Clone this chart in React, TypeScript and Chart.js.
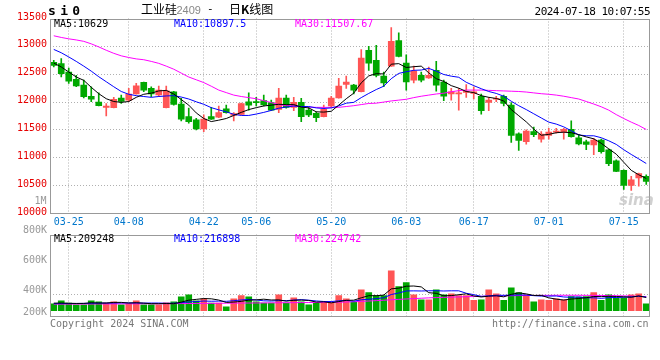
import React, { useEffect, useRef } from 'react';
import { Chart, registerables } from 'chart.js';
Chart.register(...registerables);

const DATES = [
  '03-21','03-22','03-25','03-26','03-27','03-28','03-29','04-01','04-02','04-03',
  '04-08','04-09','04-10','04-11','04-12','04-15','04-16','04-17','04-18','04-19',
  '04-22','04-23','04-24','04-25','04-26','04-29','04-30','05-06','05-07','05-08',
  '05-09','05-10','05-13','05-14','05-15','05-16','05-17','05-20','05-21','05-22',
  '05-23','05-24','05-27','05-28','05-29','05-30','05-31','06-03','06-04','06-05',
  '06-06','06-07','06-11','06-12','06-13','06-14','06-17','06-18','06-19','06-20',
  '06-21','06-24','06-25','06-26','06-27','06-28','07-01','07-02','07-03','07-04',
  '07-05','07-08','07-09','07-10','07-11','07-12','07-15','07-16','07-17','07-18',
];
const TICK_DATES = ['03-25','04-08','04-22','05-06','05-20','06-03','06-17','07-01','07-15'];

const OPEN = [
  12715,12690,12540,12410,12305,12105,12000,11905,11900,12070,
  12035,12145,12355,12245,12130,11900,12185,11965,11740,11680,
  11520,11740,11730,11880,11760,11780,12005,12005,12025,11990,
  11870,12070,11905,11995,11855,11800,11740,11930,12075,12315,
  12305,12185,12930,12750,12465,12645,13105,12700,12395,12480,
  12435,12570,12360,12145,12145,12175,12155,12105,11995,12050,
  12105,11945,11430,11290,11470,11335,11400,11460,11460,11510,
  11360,11285,11230,11320,11145,10945,10775,10505,10640,10665,
];
const HIGH = [
  12750,12780,12610,12480,12395,12275,12165,11975,12085,12125,
  12245,12335,12360,12275,12285,12285,12195,12065,11890,11710,
  11770,11905,11930,11945,11810,11980,12165,12085,12125,12035,
  12245,12125,12085,12065,11905,11825,11945,12105,12425,12465,
  12320,12940,13000,13020,12540,13335,13245,12850,12645,12540,
  12630,12730,12395,12245,12245,12315,12275,12145,12085,12105,
  12125,11990,11450,11500,11550,11470,11530,11530,11530,11665,
  11410,11320,11350,11335,11155,10965,10785,10665,10725,10695,
];
const LOW = [
  12630,12450,12335,12275,12075,12005,11930,11750,11895,11975,
  12005,12140,12185,12095,12095,11895,11945,11660,11620,11500,
  11470,11690,11720,11800,11660,11775,11855,11930,11930,11845,
  11810,11890,11845,11650,11740,11650,11735,11905,12070,12245,
  12145,12180,12570,12450,12275,12640,12810,12215,12345,12360,
  12425,12195,12025,12035,11855,12085,12055,11785,11845,12005,
  11930,11275,11130,11245,11380,11280,11335,11440,11335,11370,
  11230,11145,11055,11085,10860,10750,10430,10415,10490,10520,
];
const CLOSE = [
  12660,12510,12375,12290,12095,12050,11935,11930,12050,12010,
  12145,12290,12215,12145,12215,12200,11960,11695,11650,11520,
  11695,11695,11810,11810,11795,11975,11945,11990,11950,11855,
  12070,11905,11995,11740,11770,11720,11870,12070,12285,12360,
  12215,12790,12700,12480,12345,13090,12820,12360,12555,12395,
  12480,12305,12105,12185,12165,12195,12185,11845,12035,12065,
  11975,11400,11310,11480,11415,11425,11460,11480,11510,11380,
  11250,11240,11320,11110,10895,10755,10505,10605,10715,10575,
];

const MA5 = [
  12700,12630,12540,12450,12390,12265,12150,12060,12010,11995,
  12010,12085,12140,12160,12200,12210,12145,12045,11945,11805,
  11705,11650,11675,11705,11760,11815,11865,11900,11930,11945,
  11960,11955,11955,11910,11895,11825,11820,11835,11945,12060,
  12160,12345,12470,12510,12505,12680,12690,12620,12635,12645,
  12525,12420,12370,12295,12250,12190,12170,12115,12085,12065,
  12020,11865,11755,11645,11515,11405,11420,11450,11460,11450,
  11415,11375,11340,11260,11160,11065,10920,10775,10695,10629,
];
const MA10 = [
  12945,12885,12810,12730,12645,12555,12455,12365,12275,12190,
  12140,12115,12100,12085,12100,12110,12115,12090,12055,12005,
  11960,11900,11860,11825,11780,11760,11760,11785,11815,11850,
  11890,11910,11930,11920,11920,11895,11885,11895,11930,11980,
  11995,12080,12155,12225,12285,12420,12515,12545,12570,12575,
  12605,12555,12495,12465,12445,12355,12295,12240,12190,12155,
  12105,12015,11935,11865,11790,11715,11640,11605,11555,11485,
  11410,11395,11395,11360,11305,11240,11145,11060,10980,10897.5,
];
const MA30 = [
  13190,13160,13135,13115,13090,13045,12990,12930,12875,12830,
  12800,12775,12760,12730,12695,12645,12590,12520,12450,12400,
  12350,12285,12215,12170,12125,12100,12080,12060,12025,11990,
  11955,11935,11930,11920,11910,11905,11905,11905,11905,11920,
  11935,11955,11975,11980,12000,12020,12035,12050,12080,12105,
  12125,12145,12160,12185,12205,12215,12215,12215,12210,12205,
  12200,12195,12190,12180,12165,12150,12140,12125,12105,12080,
  12055,12010,11965,11915,11855,11775,11705,11640,11580,11507.67,
];

const VOLUME = [
  111000,158000,122000,95000,95000,158000,142000,122000,142000,95000,
  111000,158000,95000,95000,95000,126000,142000,221000,253000,158000,
  190000,122000,122000,63000,190000,242000,221000,142000,122000,122000,
  253000,122000,205000,142000,95000,122000,142000,122000,242000,190000,
  137000,332000,289000,242000,242000,632000,384000,447000,253000,174000,
  174000,332000,253000,269000,242000,242000,163000,174000,332000,269000,
  163000,363000,289000,253000,142000,174000,163000,190000,174000,226000,
  216000,226000,289000,163000,253000,200000,200000,253000,269000,111000,
];
const VOL_MA5 = [
  120000,122000,118000,115000,116000,126000,122000,122000,132000,132000,
  122000,126000,120000,111000,111000,114000,111000,136000,167000,180000,
  193000,189000,169000,131000,137000,148000,168000,172000,183000,170000,
  172000,152000,165000,169000,163000,137000,141000,125000,145000,164000,
  167000,205000,238000,238000,248000,347000,358000,389000,392000,378000,
  286000,276000,237000,240000,254000,268000,234000,218000,231000,236000,
  220000,260000,283000,267000,242000,244000,204000,184000,169000,185000,
  194000,206000,226000,224000,229000,226000,221000,214000,235000,209248,
];
const VOL_MA10 = [
  112000,113000,114000,115000,116000,118000,120000,121000,122000,124000,
  124000,124000,121000,121500,121500,118000,118500,128000,139000,145500,
  153500,150000,152500,149000,158500,170500,178500,170500,157000,153500,
  160000,160000,168500,176000,166500,154500,146500,145000,157000,163500,
  152000,173000,181500,191500,206000,257000,281500,313500,315000,313000,
  316500,317000,313000,316000,316000,277000,255000,227500,235500,245000,
  244000,247000,250500,249000,239000,232000,232000,233500,218000,213500,
  219000,205000,205000,196500,207000,210000,213500,220000,229500,216898,
];
const VOL_MA30 = [
  104000,104000,105000,105000,106000,106000,107000,107000,108000,108000,
  109000,109000,110000,110000,111000,111000,112000,113000,114000,115000,
  116000,117000,118000,119000,120000,121000,122000,123000,124000,125000,
  126000,127000,128000,129000,130000,131000,132000,133000,135000,138000,
  142000,148000,154000,160000,166000,174000,180000,186000,192000,198000,
  204000,208000,212000,216000,219000,222000,225000,228000,231000,234000,
  236000,238000,240000,241000,242000,243000,244000,245000,245000,245000,
  245000,244000,243000,242000,240000,238000,235000,231000,228000,224742,
];

const PRICE_TICKS = [10000, 10500, 11000, 11500, 12000, 12500, 13000, 13500];
const VOL_AXIS_TICKS = [200000, 400000, 600000, 800000];
const VOL_AXIS_LABELS = ['200K', '400K', '600K', '800K'];

const MONO = '"DejaVu Sans Mono", monospace';
const RED = '#ff5555';
const GREEN = '#00a800';
const GRID = '#b0b0b0';
const FRAME = '#999999';

const framePlugin = {
  id: 'frame',
  afterDraw(chart: any) {
    const { ctx, chartArea: a } = chart;
    ctx.save();
    ctx.strokeStyle = FRAME;
    ctx.lineWidth = 1;
    const l = Math.round(a.left) + 0.5;
    const t = Math.round(a.top) + 0.5;
    const r = Math.round(a.right) - 0.5;
    const b = Math.round(a.bottom) - 0.5;
    ctx.strokeRect(l, t, r - l, b - t);
    ctx.restore();
  },
};

const dateTicks = (s: any) => {
  s.ticks = s.ticks.filter((t: any) => TICK_DATES.includes(DATES[t.value]));
};

const lineDs = (label: string, data: number[], color: string, yAxisID: string) => ({
  type: 'line' as const,
  label,
  data,
  yAxisID,
  borderColor: color,
  borderWidth: 1,
  pointRadius: 0,
  pointHoverRadius: 0,
  tension: 0,
  fill: false,
  order: 0,
});

export default function App() {
  const priceRef = useRef<HTMLCanvasElement>(null);
  const volRef = useRef<HTMLCanvasElement>(null);

  useEffect(() => {
    const colors = CLOSE.map((c, i) => (c >= OPEN[i] ? RED : GREEN));
    const font = { family: MONO, size: 10 };

    const pc = new Chart(priceRef.current as HTMLCanvasElement, {
      type: 'bar',
      data: {
        labels: DATES,
        datasets: [
          lineDs('MA5', MA5, '#000000', 'y'),
          lineDs('MA10', MA10, '#0000ff', 'y'),
          lineDs('MA30', MA30, '#ff00ff', 'y'),
          {
            type: 'bar',
            label: 'range',
            data: LOW.map((l, i) => [l, HIGH[i]]) as any,
            backgroundColor: colors,
            barThickness: 1,
            grouped: false,
            order: 2,
          } as any,
          {
            type: 'bar',
            label: 'body',
            data: OPEN.map((o, i) => [o, CLOSE[i]]) as any,
            backgroundColor: colors,
            barThickness: 6,
            minBarLength: 1,
            grouped: false,
            order: 1,
          } as any,
        ],
      },
      options: {
        animation: false,
        responsive: false,
        devicePixelRatio: 1,
        events: [],
        layout: { padding: { top: 18.5, right: 10, left: 0, bottom: 0 } },
        plugins: { legend: { display: false }, tooltip: { enabled: false } },
        scales: {
          x: {
            type: 'category',
            offset: true,
            grid: { color: GRID, offset: false, drawTicks: false, lineWidth: 1 },
            border: { display: false, dash: [1, 2] },
            ticks: { autoSkip: false, maxRotation: 0, padding: 3, color: '#0077cc', font },
            afterBuildTicks: dateTicks,
            afterFit: (s: any) => { s.height = 16.5; },
          },
          y: {
            type: 'linear',
            min: 10000,
            max: 13500,
            afterBuildTicks: (s: any) => { s.ticks = PRICE_TICKS.map((v) => ({ value: v })); },
            grid: {
              color: (ctx: any) => (ctx.tick && ctx.tick.value > 10000 && ctx.tick.value < 13500 ? GRID : 'transparent'),
              drawTicks: false,
            },
            border: { display: false, dash: [1, 2] },
            ticks: {
              color: '#e60000',
              padding: 3,
              font,
              labelOffset: -1.5,
              callback: (v: any) => String(v),
            },
            afterFit: (s: any) => { s.width = 50; },
          },
        },
      } as any,
      plugins: [framePlugin],
    });

    const vc = new Chart(volRef.current as HTMLCanvasElement, {
      type: 'bar',
      data: {
        labels: DATES,
        datasets: [
          lineDs('VMA5', VOL_MA5, '#000000', 'yv'),
          lineDs('VMA10', VOL_MA10, '#0000ff', 'yv'),
          lineDs('VMA30', VOL_MA30, '#ff00ff', 'yv'),
          {
            type: 'bar',
            label: 'vol',
            data: VOLUME,
            yAxisID: 'yv',
            backgroundColor: colors,
            barThickness: 6,
            grouped: false,
            order: 1,
          } as any,
        ],
      },
      options: {
        animation: false,
        responsive: false,
        devicePixelRatio: 1,
        events: [],
        layout: { padding: { top: 12.5, right: 10, left: 0, bottom: 0 } },
        plugins: { legend: { display: false }, tooltip: { enabled: false } },
        scales: {
          x: {
            type: 'category',
            offset: true,
            grid: { color: GRID, offset: false, drawTicks: false, lineWidth: 1 },
            border: { display: false, dash: [1, 2] },
            ticks: { display: false, autoSkip: false },
            afterBuildTicks: dateTicks,
            afterFit: (s: any) => { s.height = 8.5; },
          },
          yv: {
            type: 'linear',
            position: 'left',
            display: false,
            min: -100000,
            max: 1210000,
          },
          yl: {
            type: 'linear',
            position: 'left',
            min: 250000,
            max: 800000,
            afterBuildTicks: (s: any) => {
              s.ticks = VOL_AXIS_TICKS.map((v) => ({ value: Math.max(v, s.min) }));
            },
            grid: {
              color: (ctx: any) => (ctx.tick && ctx.tick.value === 400000 ? GRID : 'transparent'),
              drawTicks: false,
            },
            border: { display: false, dash: [1, 2] },
            ticks: {
              color: '#999999',
              padding: 3,
              font,
              labelOffset: -4.5,
              callback: (_v: any, i: number) => VOL_AXIS_LABELS[i],
            },
            afterFit: (s: any) => { s.width = 50; },
          },
        },
      } as any,
      plugins: [framePlugin],
    });

    return () => {
      pc.destroy();
      vc.destroy();
    };
  }, []);

  const txt = (
    content: React.ReactNode,
    left: number,
    top: number,
    style: React.CSSProperties = {},
  ) => (
    <span
      style={{
        position: 'absolute',
        left,
        top,
        whiteSpace: 'pre',
        fontFamily: MONO,
        fontSize: 10,
        lineHeight: '12px',
        color: '#000',
        ...style,
      }}
    >
      {content}
    </span>
  );

  return (
    <div
      style={{
        position: 'fixed',
        left: 0,
        top: 0,
        width: 660,
        height: 360,
        background: '#fff',
        overflow: 'hidden',
      }}
    >
      <canvas
        ref={priceRef}
        width={660}
        height={230}
        style={{ position: 'absolute', left: 0, top: 0, width: 660, height: 230 }}
      />
      <canvas
        ref={volRef}
        width={660}
        height={104}
        style={{ position: 'absolute', left: 0, top: 222, width: 660, height: 104 }}
      />

      {txt('si0', 48, 4, { fontWeight: 'bold', fontSize: 13, lineHeight: '13px', letterSpacing: '4.3px' })}
      {txt('工业硅', 141, 3, { fontFamily: '"Noto Sans CJK SC", sans-serif', fontSize: 12 })}
      {txt('2409', 176.5, 4, { fontFamily: '"Liberation Sans", sans-serif', fontSize: 11, color: '#888' })}
      {txt('-', 207, 3, { fontSize: 11 })}
      {txt(
        <>
          日<b>K</b>线图
        </>,
        229,
        3,
        { fontFamily: '"Noto Sans CJK SC", sans-serif', fontSize: 12 },
      )}
      <span
        style={{
          position: 'absolute',
          right: 10,
          top: 6,
          whiteSpace: 'pre',
          fontFamily: MONO,
          fontSize: 11,
          lineHeight: '12px',
          letterSpacing: '-0.55px',
          color: '#000',
        }}
      >
        2024-07-18 10:07:55
      </span>

      {txt(`MA5:${MA5[MA5.length - 1]}`, 54, 17.9)}
      {txt(`MA10:${MA10[MA10.length - 1]}`, 174, 17.9, { color: '#0000ff' })}
      {txt(`MA30:${MA30[MA30.length - 1]}`, 295, 17.9, { color: '#ff00ff' })}

      {txt('1M', 34.5, 194.5, { color: '#999' })}
      {txt('sina', 619, 193, {
        fontFamily: '"DejaVu Sans", sans-serif',
        fontStyle: 'italic',
        fontWeight: 'bold',
        fontSize: 15,
        lineHeight: '15px',
        color: 'rgba(170,170,170,0.55)',
      })}

      {txt(`MA5:${VOL_MA5[VOL_MA5.length - 1]}`, 54, 233.2)}
      {txt(`MA10:${VOL_MA10[VOL_MA10.length - 1]}`, 174, 233.2, { color: '#0000ff' })}
      {txt(`MA30:${VOL_MA30[VOL_MA30.length - 1]}`, 295, 233.2, { color: '#ff00ff' })}

      {txt('Copyright 2024 SINA.COM', 50, 317.7, { color: '#777' })}
      {txt('http://finance.sina.com.cn', 492, 318.2, { color: '#777' })}
    </div>
  );
}
